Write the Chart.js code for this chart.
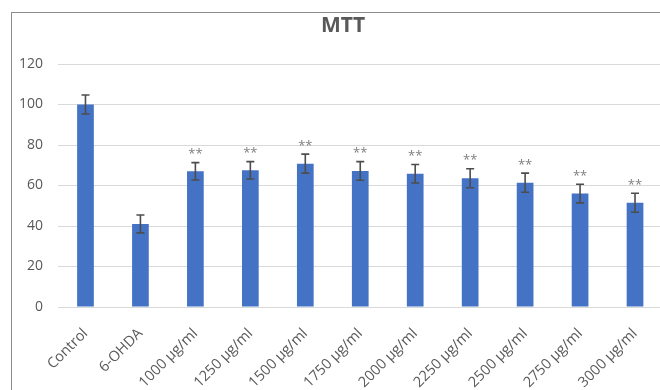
<!DOCTYPE html>
<html>
<head>
<meta charset="utf-8">
<script src="https://cdn.jsdelivr.net/npm/chart.js@4/dist/chart.umd.min.js"></script>
<style>
  html, body { margin: 0; padding: 0; background: #ffffff; overflow: hidden; }
  #frame {
    position: absolute; left: 11px; top: 12px;
    width: 700px; height: 420px;
    border: 1px solid #8c8c8c;
  }
  #chart { position: absolute; left: 0; top: 0; }
</style>
</head>
<body>
<div id="frame"><canvas id="chart" width="668" height="390"></canvas></div>
<script>
// Cell viability (MTT assay), % of control
const categories = ['Control', '6-OHDA', '1000 µg/ml', '1250 µg/ml', '1500 µg/ml', '1750 µg/ml',
                    '2000 µg/ml', '2250 µg/ml', '2500 µg/ml', '2750 µg/ml', '3000 µg/ml'];
const viability  = [100, 41, 67, 67.5, 70.8, 67.2, 65.8, 63.6, 61.4, 56, 51.5];
const errors     = [4.7, 4.4, 4.3, 4.3, 4.7, 4.6, 4.6, 4.7, 4.7, 4.6, 4.7];
const significance = ['', '', '**', '**', '**', '**', '**', '**', '**', '**', '**'];
const yTicks = [0, 20, 40, 60, 80, 100, 120];

const FONT = '"Open Sans", "DejaVu Sans", sans-serif';
const TEXT = '#595959';

// Error bars with caps, plus the significance marks above them
const errorBars = {
  id: 'errorBars',
  afterDatasetsDraw(chart) {
    const ctx = chart.ctx;
    const y = chart.scales.y;
    const meta = chart.getDatasetMeta(0);
    ctx.save();
    meta.data.forEach((bar, i) => {
      const top = y.getPixelForValue(viability[i] + errors[i]);
      const bot = y.getPixelForValue(viability[i] - errors[i]);
      ctx.strokeStyle = '#4d4d4d';
      ctx.lineWidth = 1.6;
      ctx.beginPath();
      ctx.moveTo(bar.x, top); ctx.lineTo(bar.x, bot);
      ctx.moveTo(bar.x - 4, top); ctx.lineTo(bar.x + 4, top);
      ctx.moveTo(bar.x - 4, bot); ctx.lineTo(bar.x + 4, bot);
      ctx.stroke();
      if (significance[i]) {
        ctx.fillStyle = '#7f7f7f';
        ctx.font = '13px ' + FONT;
        ctx.textAlign = 'center';
        ctx.textBaseline = 'alphabetic';
        ctx.fillText(significance[i], bar.x, top - 4.5);
      }
    });
    ctx.restore();
  }
};

new Chart(document.getElementById('chart'), {
  type: 'bar',
  data: {
    labels: categories,
    datasets: [{
      data: viability,
      backgroundColor: '#4472c4',
      borderWidth: 0,
      categoryPercentage: 1,
      barPercentage: 0.304
    }]
  },
  options: {
    responsive: false,
    animation: false,
    events: [],
    layout: { padding: { top: 0, right: 6, bottom: 0, left: 0 } },
    plugins: {
      legend: { display: false },
      tooltip: { enabled: false },
      title: {
        display: true,
        text: 'MTT',
        color: TEXT,
        font: { family: FONT, size: 21, weight: 'bold' },
        padding: { top: 0, bottom: 25.8 }
      }
    },
    scales: {
      x: {
        grid: { display: false },
        border: { display: false },
        ticks: {
          color: TEXT,
          font: { family: FONT, size: 14.5 },
          maxRotation: 45,
          minRotation: 45,
          autoSkip: false,
          padding: 10
        },
        afterFit(s) { s.height = 96; }
      },
      y: {
        min: 0,
        max: 120,
        afterBuildTicks(s) { s.ticks = yTicks.map(v => ({ value: v })); },
        grid: { color: '#d9d9d9', lineWidth: 1, drawTicks: false },
        border: { display: false },
        ticks: {
          color: TEXT,
          font: { family: FONT, size: 14 },
          padding: 15
        },
        afterFit(s) { s.width = 46; }
      },
      // empty right-hand margin so the title centres over the whole frame
      yRight: {
        position: 'right',
        display: true,
        grid: { display: false },
        border: { display: false },
        ticks: { display: false },
        afterFit(s) { s.width = 11.5; }
      }
    }
  },
  plugins: [errorBars]
});
</script>
</body>
</html>
